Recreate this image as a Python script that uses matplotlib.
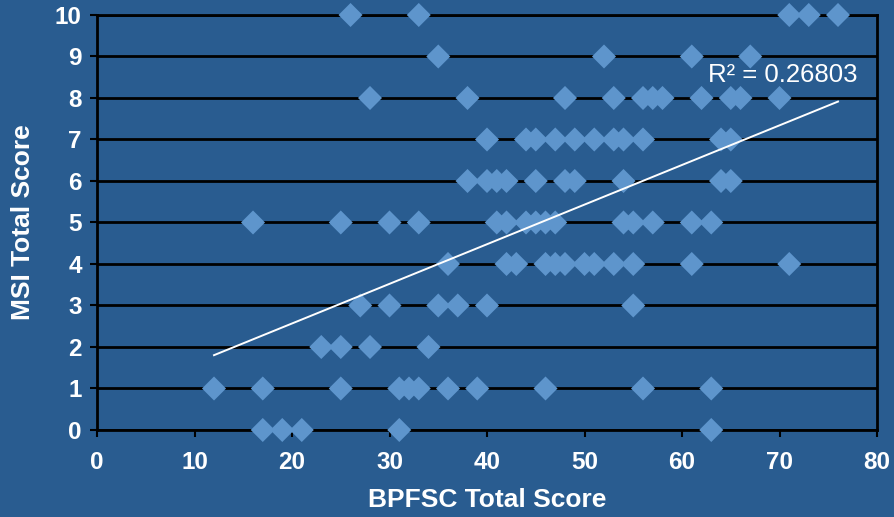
import numpy as np
import matplotlib
matplotlib.use("Agg")
import matplotlib.pyplot as plt

plt.rcParams['font.family'] = ['Liberation Sans', 'DejaVu Sans']

# BPFSC scores grouped by MSI score
msi_levels = [10, 9, 8, 7, 6, 5, 4, 3, 2, 1, 0]
bpfsc_by_msi = [
    [26, 33, 71, 73, 76],
    [35, 52, 61, 67],
    [28, 38, 48, 53, 56, 57, 58, 62, 65, 66, 70],
    [40, 44, 45, 47, 49, 51, 53, 54, 56, 64, 65],
    [38, 40, 41, 42, 45, 48, 49, 54, 64, 65],
    [16, 25, 30, 33, 41, 42, 44, 45, 46, 47, 54, 55, 57, 61, 63],
    [36, 42, 43, 46, 47, 48, 50, 51, 53, 55, 61, 71],
    [27, 30, 35, 37, 40, 55],
    [23, 25, 28, 34],
    [12, 17, 25, 31, 32, 33, 36, 39, 46, 56, 63],
    [17, 19, 21, 31, 63],
]
r2_label = "R² = 0.26803"

bg = '#295C90'
pt_color = '#5E95CC'

x = np.concatenate([np.array(v, float) for v in bpfsc_by_msi])
y = np.concatenate([np.full(len(v), m, float) for m, v in zip(msi_levels, bpfsc_by_msi)])

fig = plt.figure(figsize=(8.95, 5.17), dpi=100, facecolor=bg)
ax = fig.add_axes([0.1084, 0.1683, 0.8715, 0.8027], facecolor=bg)

ax.scatter(x, y, marker='D', s=150, color=pt_color, edgecolors='none', zorder=3, clip_on=False)

# linear trendline over the data range
slope, icept = np.polyfit(x, y, 1)
xs = np.array([x.min(), x.max()])
ax.plot(xs, slope * xs + icept, color='white', lw=1.4, zorder=4)
ax.text(70.3, 8.55, r2_label, color='white', fontsize=18.5, ha='center', va='center', zorder=5)

ax.set_xlim(0, 80)
ax.set_ylim(0, 10)
ax.set_xticks(range(0, 81, 10))
ax.set_yticks(range(0, 11))
ax.yaxis.grid(True, color='black', lw=2)
ax.set_axisbelow(True)
for s in ax.spines.values():
    s.set_color('black')
    s.set_linewidth(2)

ax.tick_params(colors='black', width=1.5, length=5, direction='out', labelcolor='white', labelsize=17.5)
ax.tick_params(axis='x', pad=10)
ax.tick_params(axis='y', pad=6)
for lab in ax.get_xticklabels() + ax.get_yticklabels():
    lab.set_fontweight('bold')

ax.set_xlabel('BPFSC Total Score', color='white', fontsize=19, fontweight='bold', labelpad=10)
ax.set_ylabel('MSI Total Score', color='white', fontsize=19, fontweight='bold', labelpad=14)

fig.savefig('out.png', dpi=100, facecolor=bg)
